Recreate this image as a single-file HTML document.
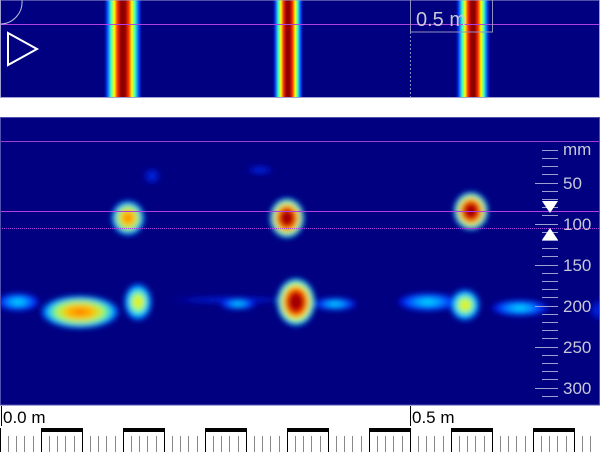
<!DOCTYPE html>
<html><head><style>
html,body{margin:0;padding:0;background:#fff;width:600px;height:452px;overflow:hidden;font-family:"Liberation Sans",sans-serif}
</style></head><body>
<svg width="600" height="452" viewBox="0 0 600 452" xmlns="http://www.w3.org/2000/svg">
<defs>
<filter id="b3" x="-50%" y="-50%" width="200%" height="200%"><feGaussianBlur stdDeviation="3"/></filter>
<filter id="b5" x="-50%" y="-50%" width="200%" height="200%"><feGaussianBlur stdDeviation="5"/></filter>
<linearGradient id="band" x1="0" x2="1" y1="0" y2="0">
<stop offset="0" stop-color="#000080" stop-opacity="0"/>
<stop offset="0.1" stop-color="#0040ff"/>
<stop offset="0.2" stop-color="#40ffc0"/>
<stop offset="0.28" stop-color="#ffff00"/>
<stop offset="0.36" stop-color="#ff3000"/>
<stop offset="0.45" stop-color="#900000"/>
<stop offset="0.55" stop-color="#900000"/>
<stop offset="0.64" stop-color="#ff3000"/>
<stop offset="0.72" stop-color="#ffff00"/>
<stop offset="0.8" stop-color="#40ffc0"/>
<stop offset="0.9" stop-color="#0040ff"/>
<stop offset="1" stop-color="#000080" stop-opacity="0"/>
</linearGradient>
<radialGradient id="hot">
<stop offset="0" stop-color="#8a0000"/>
<stop offset="0.3" stop-color="#b00000"/>
<stop offset="0.5" stop-color="#ff3000"/>
<stop offset="0.65" stop-color="#ffff00"/>
<stop offset="0.8" stop-color="#30ffd0"/>
<stop offset="0.92" stop-color="#0050ff"/>
<stop offset="1" stop-color="#000080" stop-opacity="0"/>
</radialGradient>
<radialGradient id="warm">
<stop offset="0" stop-color="#ff7000"/>
<stop offset="0.35" stop-color="#ffc000"/>
<stop offset="0.6" stop-color="#a0ff60"/>
<stop offset="0.8" stop-color="#00c0ff"/>
<stop offset="0.93" stop-color="#0040ff"/>
<stop offset="1" stop-color="#000080" stop-opacity="0"/>
</radialGradient>
<radialGradient id="yel">
<stop offset="0" stop-color="#ffe000"/>
<stop offset="0.35" stop-color="#c0ff40"/>
<stop offset="0.6" stop-color="#00e0ff"/>
<stop offset="0.85" stop-color="#0040ff"/>
<stop offset="1" stop-color="#000080" stop-opacity="0"/>
</radialGradient>
<radialGradient id="cyan">
<stop offset="0" stop-color="#00f0ff"/>
<stop offset="0.4" stop-color="#0090ff"/>
<stop offset="0.75" stop-color="#0020ff"/>
<stop offset="1" stop-color="#000080" stop-opacity="0"/>
</radialGradient>
<radialGradient id="faint">
<stop offset="0" stop-color="#0030f0"/>
<stop offset="0.6" stop-color="#0010c0"/>
<stop offset="1" stop-color="#000080" stop-opacity="0"/>
</radialGradient>
</defs>

<!-- top panel -->
<rect x="0" y="0" width="600" height="98" fill="#000080"/>
<rect x="103" y="0" width="40" height="98" fill="url(#band)"/>
<rect x="272" y="0" width="32" height="98" fill="url(#band)"/>
<rect x="455" y="0" width="36" height="98" fill="url(#band)"/>
<line x1="0" y1="24.5" x2="600" y2="24.5" stroke="#b040e0" stroke-width="1"/>
<line x1="410.5" y1="0" x2="410.5" y2="98" stroke="#9090c0" stroke-width="1" stroke-dasharray="2,2"/>
<rect x="410.5" y="-1" width="82" height="33" fill="none" stroke="#9090c0" stroke-width="1"/>
<text x="416" y="26" font-size="20" fill="#c8c8d8">0.5 m</text>
<path d="M0 24 A22 22 0 0 0 22 0" fill="none" stroke="#c0c0e0" stroke-width="1"/>
<polygon points="8,33 37,49 8,65" fill="none" stroke="#fff" stroke-width="2"/>
<rect x="0.5" y="0" width="599" height="97.5" fill="none" stroke="#a0a0d0" stroke-width="1"/>

<!-- bottom panel -->
<rect x="0" y="117" width="600" height="288" fill="#000080"/>
<g filter="url(#b3)">
<ellipse cx="152" cy="176" rx="10" ry="9" fill="url(#faint)"/>
<ellipse cx="260" cy="170" rx="16" ry="5" fill="url(#faint)"/>
<ellipse cx="128" cy="218" rx="17" ry="18" fill="url(#warm)"/>
<ellipse cx="287" cy="218" rx="18" ry="21" fill="url(#hot)"/>
<ellipse cx="471" cy="211" rx="18" ry="20" fill="url(#hot)"/>
<ellipse cx="18" cy="302" rx="24" ry="10" fill="url(#cyan)"/>
<ellipse cx="230" cy="300" rx="70" ry="4" fill="url(#faint)"/>
<ellipse cx="80" cy="312" rx="40" ry="17" fill="url(#warm)"/>
<ellipse cx="138" cy="302" rx="15" ry="20" fill="url(#yel)"/>
<ellipse cx="238" cy="304" rx="20" ry="6" fill="url(#cyan)"/>
<ellipse cx="335" cy="304" rx="24" ry="7" fill="url(#cyan)"/>
<ellipse cx="296" cy="302" rx="20" ry="25" fill="url(#hot)"/>
<ellipse cx="428" cy="302" rx="34" ry="10" fill="url(#cyan)"/>
<ellipse cx="465" cy="305" rx="16" ry="17" fill="url(#yel)"/>
<ellipse cx="520" cy="308" rx="32" ry="9" fill="url(#cyan)"/>
<ellipse cx="598" cy="310" rx="10" ry="12" fill="url(#faint)"/>
</g>
<line x1="0" y1="141.5" x2="600" y2="141.5" stroke="#a040d0" stroke-width="1"/>
<line x1="0" y1="211.5" x2="600" y2="211.5" stroke="#b040e0" stroke-width="1"/>
<line x1="0" y1="228.5" x2="600" y2="228.5" stroke="#b040e0" stroke-width="1" stroke-dasharray="1,1"/>
<g stroke="#a0a0d0" stroke-width="1">
<line x1="542" y1="150.5" x2="558" y2="150.5"/>
<line x1="542" y1="158.5" x2="558" y2="158.5"/>
<line x1="542" y1="166.5" x2="558" y2="166.5"/>
<line x1="542" y1="174.5" x2="558" y2="174.5"/>
<line x1="535" y1="183.5" x2="558" y2="183.5"/>
<line x1="542" y1="191.5" x2="558" y2="191.5"/>
<line x1="542" y1="199.5" x2="558" y2="199.5"/>
<line x1="542" y1="207.5" x2="558" y2="207.5"/>
<line x1="542" y1="215.5" x2="558" y2="215.5"/>
<line x1="535" y1="224.5" x2="558" y2="224.5"/>
<line x1="542" y1="232.5" x2="558" y2="232.5"/>
<line x1="542" y1="240.5" x2="558" y2="240.5"/>
<line x1="542" y1="248.5" x2="558" y2="248.5"/>
<line x1="542" y1="256.5" x2="558" y2="256.5"/>
<line x1="535" y1="265.5" x2="558" y2="265.5"/>
<line x1="542" y1="273.5" x2="558" y2="273.5"/>
<line x1="542" y1="281.5" x2="558" y2="281.5"/>
<line x1="542" y1="289.5" x2="558" y2="289.5"/>
<line x1="542" y1="297.5" x2="558" y2="297.5"/>
<line x1="535" y1="306.5" x2="558" y2="306.5"/>
<line x1="542" y1="314.5" x2="558" y2="314.5"/>
<line x1="542" y1="322.5" x2="558" y2="322.5"/>
<line x1="542" y1="330.5" x2="558" y2="330.5"/>
<line x1="542" y1="338.5" x2="558" y2="338.5"/>
<line x1="535" y1="347.5" x2="558" y2="347.5"/>
<line x1="542" y1="355.5" x2="558" y2="355.5"/>
<line x1="542" y1="363.5" x2="558" y2="363.5"/>
<line x1="542" y1="371.5" x2="558" y2="371.5"/>
<line x1="542" y1="379.5" x2="558" y2="379.5"/>
<line x1="535" y1="388.5" x2="558" y2="388.5"/>
<line x1="542" y1="396.5" x2="558" y2="396.5"/>
</g>
<g font-size="17" fill="#c8c8d8">
<text x="563" y="155">mm</text>
<text x="563" y="189">50</text>
<text x="563" y="230">100</text>
<text x="563" y="271">150</text>
<text x="563" y="312">200</text>
<text x="563" y="353">250</text>
<text x="563" y="394">300</text>
</g>
<polygon points="542,201 558,201 550,213" fill="#fff"/>
<polygon points="542,240 558,240 550,228" fill="#fff"/>
<rect x="0.5" y="117.5" width="599" height="287.5" fill="none" stroke="#5050b0" stroke-width="1"/>

<!-- ruler -->
<text x="3" y="423" font-size="17" fill="#000">0.0 m</text>
<text x="412" y="423" font-size="17" fill="#000">0.5 m</text>
<line x1="1.5" y1="406" x2="1.5" y2="426" stroke="#000"/>
<line x1="410.5" y1="406" x2="410.5" y2="426" stroke="#000"/>
<g id="rul">
<rect x="41" y="428" width="41" height="4" fill="#000"/>
<rect x="123" y="428" width="41" height="4" fill="#000"/>
<rect x="205" y="428" width="41" height="4" fill="#000"/>
<rect x="287" y="428" width="41" height="4" fill="#000"/>
<rect x="369" y="428" width="41" height="4" fill="#000"/>
<rect x="451" y="428" width="41" height="4" fill="#000"/>
<rect x="533" y="428" width="41" height="4" fill="#000"/>
</g>
<g stroke="#000" stroke-width="1">
<line x1="0.5" y1="428" x2="0.5" y2="452"/><line x1="41.5" y1="428" x2="41.5" y2="452"/><line x1="82.5" y1="428" x2="82.5" y2="452"/><line x1="123.5" y1="428" x2="123.5" y2="452"/><line x1="164.5" y1="428" x2="164.5" y2="452"/><line x1="205.5" y1="428" x2="205.5" y2="452"/><line x1="246.5" y1="428" x2="246.5" y2="452"/><line x1="287.5" y1="428" x2="287.5" y2="452"/><line x1="328.5" y1="428" x2="328.5" y2="452"/><line x1="369.5" y1="428" x2="369.5" y2="452"/><line x1="410.5" y1="428" x2="410.5" y2="452"/><line x1="451.5" y1="428" x2="451.5" y2="452"/><line x1="492.5" y1="428" x2="492.5" y2="452"/><line x1="533.5" y1="428" x2="533.5" y2="452"/><line x1="574.5" y1="428" x2="574.5" y2="452"/>
</g>
<g stroke="#888" stroke-width="1" stroke-dasharray="16,100">
<path d="M8.5 436V452M16.5 436V452M24.5 436V452M33.5 436V452M49.5 436V452M57.5 436V452M65.5 436V452M74.5 436V452M90.5 436V452M98.5 436V452M106.5 436V452M115.5 436V452M131.5 436V452M139.5 436V452M147.5 436V452M156.5 436V452M172.5 436V452M180.5 436V452M188.5 436V452M197.5 436V452M213.5 436V452M221.5 436V452M229.5 436V452M238.5 436V452M254.5 436V452M262.5 436V452M270.5 436V452M279.5 436V452M295.5 436V452M303.5 436V452M311.5 436V452M320.5 436V452M336.5 436V452M344.5 436V452M352.5 436V452M361.5 436V452M377.5 436V452M385.5 436V452M393.5 436V452M402.5 436V452M418.5 436V452M426.5 436V452M434.5 436V452M443.5 436V452M459.5 436V452M467.5 436V452M475.5 436V452M484.5 436V452M500.5 436V452M508.5 436V452M516.5 436V452M525.5 436V452M541.5 436V452M549.5 436V452M557.5 436V452M566.5 436V452M582.5 436V452M590.5 436V452"/>
</g>
</svg>
</body></html>
